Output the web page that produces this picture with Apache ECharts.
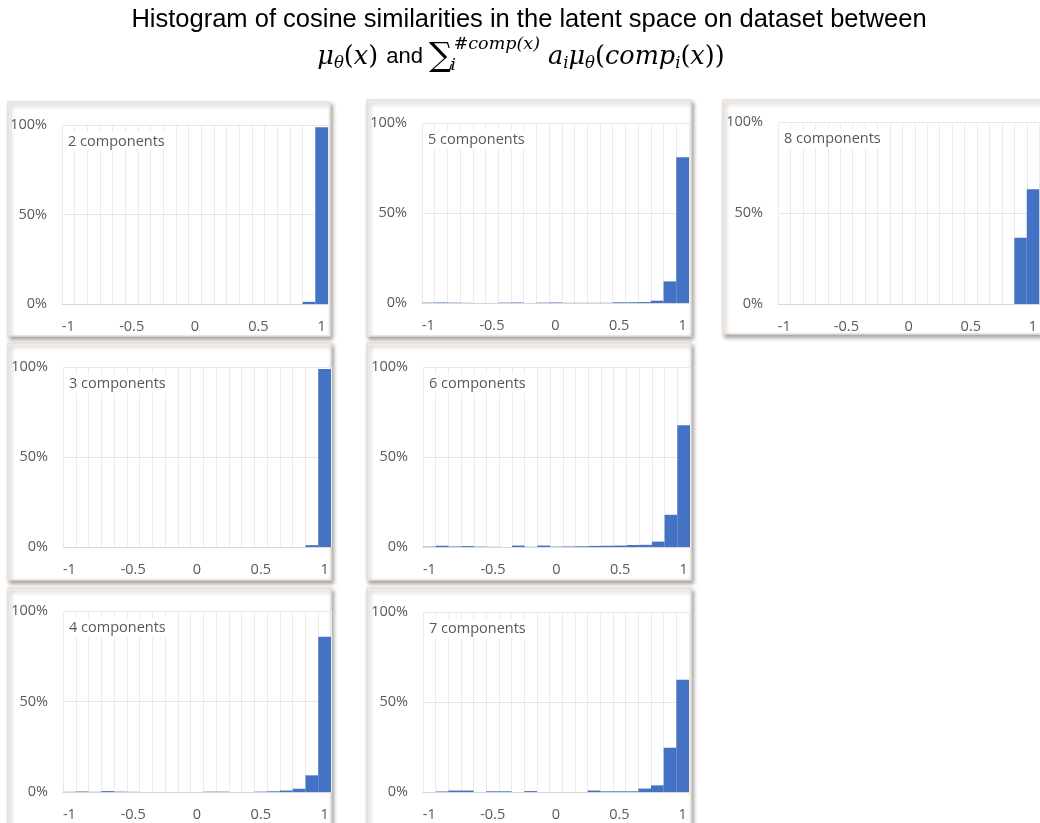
<!DOCTYPE html>
<html>
<head>
<meta charset="utf-8">
<script src="https://cdn.jsdelivr.net/npm/echarts@6/dist/echarts.min.js"></script>
<style>
html,body{margin:0;padding:0;background:#fff;}
#chart{width:1040px;height:823px;}
</style>
</head>
<body>
<div id="chart"></div>
<script>
// ---- data ----
const bins = ['-1','-0.9','-0.8','-0.7','-0.6','-0.5','-0.4','-0.3','-0.2','-0.1','0','0.1','0.2','0.3','0.4','0.5','0.6','0.7','0.8','0.9','1'];
const yTicks = [0, 50, 100];
const comp2 = [0,0,0,0,0,0,0,0,0,0,0,0,0,0,0,0,0,0,0,1.2,98.8];
const comp3 = [0,0,0,0,0,0,0,0,0,0,0,0,0,0,0,0,0,0,0,1.0,98.9];
const comp4 = [0.1,0.3,0.1,0.5,0.2,0.1,0,0,0,0,0,0.2,0.2,0,0,0.2,0.4,0.8,1.8,9.2,85.8];
const comp5 = [0.2,0.3,0.2,0.1,0,0,0.2,0.3,0,0.2,0.3,0.1,0.1,0.1,0.1,0.4,0.4,0.5,1.3,12.0,81.0];
const comp6 = [0.2,0.7,0.3,0.5,0.2,0.1,0,0.8,0.1,0.8,0.2,0.3,0.4,0.6,0.7,0.8,1.1,1.2,3.0,17.9,67.7];
const comp7 = [0,0.3,0.8,0.8,0,0.4,0.4,0,0.5,0,0,0,0,0.8,0.4,0.4,0.4,1.9,3.7,24.6,62.4];
const comp8 = [0,0,0,0,0,0,0,0,0,0,0,0,0,0,0,0,0,0,0,36.4,63.1];
const panelNames = ['2 components','3 components','4 components','5 components','6 components','7 components','8 components'];
const panelData = [comp2, comp3, comp4, comp5, comp6, comp7, comp8];

// ---- layout (card box and plot box per panel) ----
const layout = [
  {card:[8,102,322,234],   plot:[62,125,266,179]},
  {card:[8,343,323,237],   plot:[63,367,268,180]},
  {card:[8,588,323,250],   plot:[63,611,268,181]},
  {card:[367,100,324,236], plot:[422,123,267,180]},
  {card:[367,343,324,237], plot:[423,367,267,180]},
  {card:[367,588,324,250], plot:[423,612,266,180]},
  {card:[723,100,324,234], plot:[778,122,267,182]}
];

const labelColor = '#595959';
const uiFont = 'Open Sans';

const grids = [], xAxes = [], yAxes = [], series = [], graphics = [];
layout.forEach((L, i) => {
  const [cx, cy, cw, ch] = L.card;
  const [px, py, pw, ph] = L.plot;
  graphics.push({
    type: 'rect', z: -10,
    shape: {x: cx, y: cy, width: cw, height: ch},
    style: {fill: '#ffffff', stroke: '#ecdcd0', lineWidth: 1.5,
            shadowBlur: 4, shadowOffsetX: 2, shadowOffsetY: 3, shadowColor: 'rgba(0,0,0,0.35)'}
  });
  graphics.push({
    type: 'text', z: 10, x: px + 3, y: py + 7,
    style: {text: panelNames[i], fill: labelColor, font: '14.5px "' + uiFont + '"',
            backgroundColor: '#ffffff', padding: [2, 3, 2, 3]}
  });
  grids.push({left: px, top: py, width: pw, height: ph, containLabel: false});
  xAxes.push({
    type: 'category', gridIndex: i, data: bins, boundaryGap: true,
    axisLine: {show: true, lineStyle: {color: '#d9d9d9', width: 1}},
    axisTick: {show: false},
    axisLabel: {interval: 4, color: labelColor, fontSize: 14.5, fontFamily: uiFont, margin: 15},
    splitLine: {show: true, interval: 0, lineStyle: {color: '#ebebeb', width: 1}}
  });
  yAxes.push({
    type: 'value', gridIndex: i, min: yTicks[0], max: yTicks[yTicks.length - 1], interval: 50,
    axisLine: {show: false}, axisTick: {show: false},
    axisLabel: {color: labelColor, fontSize: 14.5, fontFamily: uiFont, margin: 15, formatter: '{value}%'},
    splitLine: {show: true, lineStyle: {color: '#e6e6e6', width: 1}}
  });
  series.push({
    type: 'bar', xAxisIndex: i, yAxisIndex: i, data: panelData[i],
    barCategoryGap: '0%', barGap: '0%',
    itemStyle: {color: '#4472C4'}, silent: true
  });
});

const serif = '"DejaVu Serif"';
const chart = echarts.init(document.getElementById('chart'), null, {renderer: 'canvas'});
chart.setOption({
  animation: false,
  backgroundColor: '#ffffff',
  title: [
    {
      text: 'Histogram of cosine similarities in the latent space on dataset between',
      left: 529, top: 4, textAlign: 'center', padding: 0,
      textStyle: {fontFamily: 'Liberation Sans', fontSize: 25.5, fontWeight: 'normal', color: '#000', lineHeight: 32}
    },
    {
      text: '{mi|μ}{s|θ}{m|(}{mi|x}{m|) }{t|and }{g|∑}{si|i}{p|#comp(x)}{mi| a}{s|i}{mi|μ}{s|θ}{m|(}{mi|comp}{s|i}{m|(}{mi|x}{m|))}',
      left: 521, top: 35, textAlign: 'center', padding: 0,
      textStyle: {
        fontSize: 22, color: '#000', fontWeight: 'normal',
        rich: {
          m:  {fontFamily: serif, fontWeight: 'normal', fontSize: 25.5, lineHeight: 44, verticalAlign: 'middle', color: '#000'},
          mi: {fontFamily: serif, fontWeight: 'normal', fontStyle: 'italic', fontSize: 25.5, lineHeight: 44, verticalAlign: 'middle', color: '#000'},
          t:  {fontFamily: 'Liberation Sans', fontWeight: 'normal', fontSize: 22, lineHeight: 44, verticalAlign: 'middle', color: '#000'},
          g:  {fontFamily: serif, fontWeight: 'normal', fontSize: 33, lineHeight: 44, verticalAlign: 'middle', color: '#000'},
          s:  {fontFamily: serif, fontWeight: 'normal', fontStyle: 'italic', fontSize: 16.5, lineHeight: 34, verticalAlign: 'bottom', padding: [0, 0, 7, 0], color: '#000'},
          si: {fontFamily: serif, fontWeight: 'normal', fontStyle: 'italic', fontSize: 17, lineHeight: 30, verticalAlign: 'bottom', padding: [0, 0, 5, 0], width: 1, color: '#000'},
          p:  {fontFamily: serif, fontWeight: 'normal', fontStyle: 'italic', fontSize: 17.5, lineHeight: 18, verticalAlign: 'top', color: '#000'}
        }
      }
    }
  ],
  grid: grids,
  xAxis: xAxes,
  yAxis: yAxes,
  series: series,
  graphic: graphics
});
</script>
</body>
</html>
